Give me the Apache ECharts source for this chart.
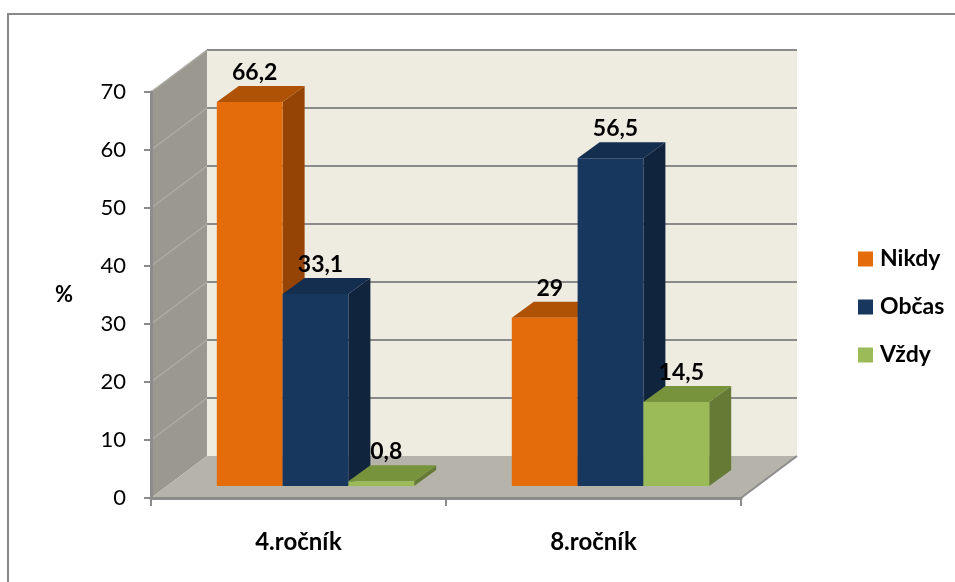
<!DOCTYPE html>
<html>
<head>
<meta charset="utf-8">
<script src="https://cdn.jsdelivr.net/npm/echarts@6/dist/echarts.min.js"></script>
<style>
  html, body { margin: 0; padding: 0; background: #fff; }
  #chart { width: 955px; height: 582px; }
</style>
</head>
<body>
<div id="chart"></div>
<script>
// data
var categories = ["4.ročník", "8.ročník"];
var seriesNames = ["Nikdy", "Občas", "Vždy"];
var nikdy = [66.2, 29];
var obcas = [33.1, 56.5];
var vzdy = [0.8, 14.5];
var yTicks = [0, 10, 20, 30, 40, 50, 60, 70];

// face colours: front, top, side
var palette = [
  ["#E46C0A", "#B05206", "#964306"],
  ["#17375E", "#142E50", "#10243E"],
  ["#9BBB59", "#77933C", "#647A35"]
];

var FONT = "Lato, 'Open Sans', sans-serif";
var DEPTH = [56, -42];     // wall depth
var FRONT = [16, -12];     // where bar front face sits
var BAR_D = [22, -16];     // bar depth
var BAR_FRAC = 0.223;      // bar width as share of band

function renderWalls(params, api) {
  var cs = params.coordSys;
  var left = cs.x, right = cs.x + cs.width;
  var yBot = api.coord([0, 0])[1];
  var yTop = api.coord([0, yTicks[yTicks.length - 1]])[1];
  var dx = DEPTH[0], dy = DEPTH[1];
  var kids = [
    { type: "polygon", shape: { points: [[left, yTop], [left + dx, yTop + dy], [left + dx, yBot + dy], [left, yBot]] },
      style: { fill: "#9B9890" } },
    { type: "rect", shape: { x: left + dx, y: yTop + dy, width: right - left, height: yBot - yTop },
      style: { fill: "#EEEBE0" } },
    { type: "polygon", shape: { points: [[left, yBot], [left + dx, yBot + dy], [right + dx, yBot + dy], [right, yBot]] },
      style: { fill: "#B6B3AB" } },
    { type: "line", shape: { x1: right, y1: yBot, x2: right + dx, y2: yBot + dy },
      style: { stroke: "#8C8C8C", lineWidth: 2 } }
  ];
  yTicks.forEach(function (v) {
    if (v === 0) return;
    var y = api.coord([0, v])[1];
    kids.push({ type: "line", shape: { x1: left + dx, y1: y + dy, x2: right + dx, y2: y + dy },
      style: { stroke: "#8A8A8A", lineWidth: 2 } });
    kids.push({ type: "line", shape: { x1: left, y1: y, x2: left + dx, y2: y + dy },
      style: { stroke: "#AEACA6", lineWidth: 1.5 } });
  });
  return { type: "group", children: kids };
}

function makeBarRender(s) {
  return function (params, api) {
    var ci = api.value(0), v = api.value(1);
    var band = api.size([1, 0])[0];
    var bw = band * BAR_FRAC;
    var base = api.coord([ci, 0]);
    var top = api.coord([ci, v]);
    var x0 = base[0] + (s - 1) * bw - bw / 2 + FRONT[0] + 1;
    var x1 = x0 + bw;
    var yb = base[1] + FRONT[1];
    var yt = top[1] + FRONT[1];
    var c = palette[s];
    return {
      type: "group",
      children: [
        { type: "polygon", shape: { points: [[x1, yt], [x1 + BAR_D[0], yt + BAR_D[1]], [x1 + BAR_D[0], yb + BAR_D[1]], [x1, yb]] },
          style: { fill: c[2] } },
        { type: "polygon", shape: { points: [[x0, yt], [x0 + BAR_D[0], yt + BAR_D[1]], [x1 + BAR_D[0], yt + BAR_D[1]], [x1, yt]] },
          style: { fill: c[1] } },
        { type: "rect", shape: { x: x0, y: yt, width: bw, height: yb - yt },
          style: { fill: c[0] } },
        { type: "text", x: (x0 + x1) / 2 + 5, y: yt + BAR_D[1] - 2,
          style: { text: String(v).replace(".", ","), fill: "#000", font: "bold 23px " + FONT,
            align: "center", verticalAlign: "bottom" } }
      ]
    };
  };
}

var chart = echarts.init(document.getElementById("chart"));
var valueSets = [nikdy, obcas, vzdy];

var series = [{
  type: "custom",
  name: "walls",
  renderItem: renderWalls,
  data: [[0, 0]],
  encode: { x: 0, y: 1 },
  silent: true,
  z: 1
}];
seriesNames.forEach(function (name, s) {
  series.push({
    type: "custom",
    name: name,
    renderItem: makeBarRender(s),
    itemStyle: { color: palette[s][0] },
    data: categories.map(function (c, i) { return [i, valueSets[s][i]]; }),
    encode: { x: 0, y: 1 },
    z: 2
  });
});

chart.setOption({
  animation: false,
  backgroundColor: "#fff",
  graphic: [{
    type: "rect",
    shape: { x: 8, y: 14, width: 980, height: 620 },
    style: { fill: "none", stroke: "#898989", lineWidth: 2 },
    z: 0
  }],
  grid: { left: 151, top: 92, width: 590, height: 406 },
  legend: {
    data: seriesNames,
    orient: "vertical",
    left: 853,
    top: 242,
    icon: "rect",
    itemWidth: 15,
    itemHeight: 15,
    itemGap: 24,
    textStyle: { fontFamily: FONT, fontWeight: "bold", fontSize: 23, color: "#000", lineHeight: 24, padding: [0, 0, 0, 2] }
  },
  xAxis: {
    type: "category",
    data: categories,
    axisLine: { lineStyle: { color: "#8C8C8C", width: 3 } },
    axisTick: { show: true, length: 8, lineStyle: { color: "#8C8C8C", width: 2 } },
    axisLabel: { margin: 32, fontFamily: FONT, fontWeight: "bold", fontSize: 24, color: "#000" },
    splitLine: { show: false },
    z: 5
  },
  yAxis: {
    type: "value",
    min: 0,
    max: 70,
    interval: 10,
    name: "%",
    nameLocation: "middle",
    nameRotate: 0,
    nameGap: 87,
    nameTextStyle: { fontFamily: FONT, fontWeight: "bold", fontSize: 22, color: "#000", align: "center" },
    axisLine: { show: true, lineStyle: { color: "#8C8C8C", width: 3 } },
    axisTick: { show: true, length: 7, lineStyle: { color: "#8C8C8C", width: 2 } },
    axisLabel: { margin: 25, fontFamily: FONT, fontSize: 22, color: "#000" },
    splitLine: { show: false },
    z: 5
  },
  series: series
});
</script>
</body>
</html>
